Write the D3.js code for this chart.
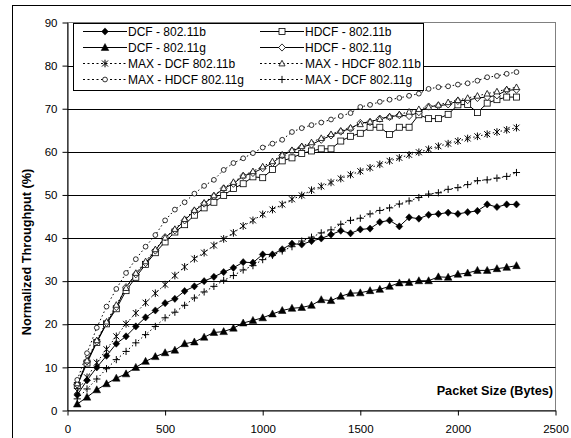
<!DOCTYPE html>
<html>
<head>
<meta charset="utf-8">
<script src="https://cdn.jsdelivr.net/npm/d3@7"></script>
<style>
  body { margin: 0; background: #fff; }
  text { font-family: Arial, "Liberation Sans", sans-serif; }
</style>
</head>
<body>
<div id="chart"></div>
<script>
// Packet sizes (bytes)
const packetSizes = [50, 100, 150, 200, 250, 300, 350, 400, 450, 500, 550, 600, 650, 700, 750, 800, 850, 900, 950, 1000,
  1050, 1100, 1150, 1200, 1250, 1300, 1350, 1400, 1450, 1500, 1550, 1600, 1650, 1700, 1750, 1800, 1850, 1900, 1950, 2000,
  2050, 2100, 2150, 2200, 2250, 2300]

// Normalized throughput (%) per series
const dcf11b = [3.6, 7, 10, 12.7, 15.5, 17.2, 19.5, 21.6, 23.2, 24.9, 25.9, 27.7, 28.8, 30, 31, 32.1, 33.1, 34.4, 34.3, 36.2,
  36.2, 37.4, 38.7, 38.5, 39.3, 39.9, 40.8, 41.7, 41.1, 42, 42.2, 43.7, 44.1, 42.7, 44.8, 44.5, 45.4, 45.6, 45.9, 45.6,
  46, 46.3, 47.8, 47.2, 47.8, 47.8]
const hdcf11b = [5.8, 11, 15.8, 20.1, 23.6, 27.8, 30.9, 33.9, 36.6, 39.1, 41.4, 43.1, 45.3, 47, 48.3, 49.9, 51.5, 52.6, 54.2, 54,
  55.9, 57.9, 58.6, 59.6, 60.2, 60.7, 60.7, 62.5, 63.6, 64.3, 65.7, 65.7, 64, 65.7, 65.7, 68.6, 67.7, 67.7, 68.7, 70.9,
  71, 69.1, 71.3, 72.1, 72.7, 72.7]
const dcf11g = [1.5, 3.1, 4.8, 6.2, 7.5, 8.5, 10, 11.4, 12.5, 13.4, 14, 15.5, 15.9, 17, 18.1, 18.3, 19.1, 20.3, 20.9, 21.5,
  22.4, 23.2, 23.7, 23.9, 24.4, 25.7, 25.5, 26.5, 27.2, 27.3, 27.8, 28.1, 28.8, 29.6, 29.7, 30.1, 30.1, 31, 30.9, 31.6,
  31.9, 32.5, 32.5, 32.9, 33.2, 33.6]
const hdcf11g = [6, 11.4, 16, 20.3, 24, 28.6, 31.6, 34.2, 37.1, 40.2, 41.8, 44.1, 46.3, 48, 49.7, 51.5, 52.6, 54.4, 55.1, 56.2,
  57.4, 59.2, 60.2, 61.1, 61.7, 62.8, 63.8, 64.7, 65.4, 66.7, 66.9, 67.7, 68.1, 68.5, 68.3, 69.2, 70.5, 70.7, 71, 71.8,
  72, 72.5, 72.7, 73.1, 74.3, 74.4]
const maxDcf11b = [4.5, 7.7, 11.1, 14.2, 17.2, 20.1, 22.6, 25, 27.2, 29.2, 31.3, 33.3, 35.2, 36.6, 38.3, 39.8, 41.2, 42.8, 44.1, 45.5,
  46.6, 47.8, 49, 49.9, 51.1, 52, 52.9, 53.8, 54.7, 55.5, 56.3, 57.1, 57.9, 58.6, 59.3, 59.9, 60.6, 61.3, 61.9, 62.5,
  63.1, 63.6, 64.1, 64.6, 65.1, 65.6]
const maxHdcf11b = [6.3, 11.6, 16.3, 20.6, 24.5, 28.4, 31.9, 34.6, 37.4, 40.1, 42.1, 44.4, 46.5, 48.2, 49.9, 51.6, 53, 54.5, 55.5, 56.6,
  57.8, 59.3, 60.4, 61.3, 62.2, 63.2, 64.1, 64.9, 65.6, 66.4, 67, 67.6, 68.2, 68.7, 69.3, 69.9, 70.4, 70.9, 71.5, 72,
  72.5, 73, 73.5, 74, 74.5, 75]
const maxHdcf11g = [7.1, 13.3, 19.2, 24.1, 28.2, 31.9, 35.1, 38, 40.7, 44.1, 46.6, 48.3, 50.3, 52.1, 53.5, 55.8, 57.4, 58.5, 59.7, 61,
  61.9, 62.8, 64.6, 65.5, 66.2, 66.8, 67.5, 68.3, 69, 70.4, 70.9, 71.6, 72.1, 72.5, 73, 73.5, 74.6, 75, 75.2, 75.6,
  75.9, 76.5, 77.3, 77.6, 78.1, 78.5]
const maxDcf11g = [2.7, 5, 7.3, 9.7, 11.8, 13.7, 15.7, 17.6, 19.5, 21.5, 22.8, 24.4, 26.1, 27.5, 28.8, 30.2, 31.3, 32.6, 33.6, 35,
  36, 37, 38, 39.3, 40.2, 41.2, 41.9, 43.2, 44.1, 44.6, 45.6, 46.4, 47, 47.9, 48.6, 49.4, 50.2, 50.5, 51.3, 51.7,
  52.4, 53.3, 53.5, 53.9, 54.3, 55.2]

const seriesNames = ['DCF - 802.11b', 'HDCF - 802.11b', 'DCF - 802.11g', 'HDCF - 802.11g',
  'MAX - DCF 802.11b', 'MAX - HDCF 802.11b', 'MAX - HDCF 802.11g', 'MAX - DCF 802.11g']
const seriesValues = [dcf11b, hdcf11b, dcf11g, hdcf11g, maxDcf11b, maxHdcf11b, maxHdcf11g, maxDcf11g]
const seriesMarkers = ['diamondFill', 'square', 'triangleFill', 'diamond', 'asterisk', 'triangle', 'circle', 'plus']
const seriesDashed = [false, false, false, false, true, true, true, true]

const yTicks = [0, 10, 20, 30, 40, 50, 60, 70, 80, 90]
const xTicks = [0, 500, 1000, 1500, 2000, 2500]

// Layout
const width = 571
const height = 438
const plot = {left: 67.5, right: 555.5, top: 22.5, bottom: 410.5}

const svg = d3.select('#chart')
  .append('svg')
  .attr('width', width)
  .attr('height', height)

// Outer frame (runs past the right and bottom edges)
svg.append('rect')
  .attr('x', 12.5).attr('y', 5.5)
  .attr('width', 600).attr('height', 500)
  .style('fill', 'white')
  .style('stroke', 'black')
  .style('stroke-width', 1)

const xScale = d3.scaleLinear().domain([0, 2500]).range([plot.left, plot.right])
const yScale = d3.scaleLinear().domain([0, 90]).range([plot.bottom, plot.top])

// Plot area border (gray)
svg.append('rect')
  .attr('x', plot.left).attr('y', plot.top)
  .attr('width', plot.right - plot.left).attr('height', plot.bottom - plot.top)
  .style('fill', 'none')
  .style('stroke', '#808080')

// Gridlines
svg.append('g')
  .selectAll('line')
  .data(yTicks.filter(t => t > 0 && t < 90))
  .join('line')
  .attr('x1', plot.left).attr('x2', plot.right)
  .attr('y1', d => Math.round(yScale(d)) + 0.5)
  .attr('y2', d => Math.round(yScale(d)) + 0.5)
  .style('stroke', 'black')
  .style('stroke-width', 1)

// Axes
const lAxis = svg.append('g')
  .attr('transform', `translate(${plot.left},0)`)
  .call(d3.axisLeft(yScale).tickValues(yTicks).tickSize(5).tickSizeOuter(0).tickPadding(5))
const bAxis = svg.append('g')
  .attr('transform', `translate(0,${plot.bottom})`)
  .call(d3.axisBottom(xScale).tickValues(xTicks).tickFormat(d3.format('d')).tickSize(5).tickSizeOuter(0).tickPadding(9))

;[lAxis, bAxis].forEach(a => {
  a.select('.domain').style('stroke', 'black')
  a.selectAll('.tick line').style('stroke', 'black')
  a.selectAll('.tick text')
    .style('font-family', 'Arial, "Liberation Sans", sans-serif')
    .style('font-size', '11.5px')
    .style('fill', 'black')
})

// Axis titles
svg.append('text')
  .attr('transform', `translate(31,252) rotate(270)`)
  .style('text-anchor', 'middle')
  .style('font-size', '12.7px')
  .style('font-weight', 'bold')
  .text('Normalized Throughput (%)')

svg.append('text')
  .attr('x', 553).attr('y', 395)
  .style('text-anchor', 'end')
  .style('font-size', '12.7px')
  .style('font-weight', 'bold')
  .text('Packet Size (Bytes)')

// Marker drawing
function drawMarker(g, type) {
  const s = 'black'
  if (type === 'diamondFill' || type === 'diamond') {
    g.append('path').attr('d', 'M0,-3.6L3.4,0L0,3.6L-3.4,0Z')
      .style('fill', type === 'diamondFill' ? 'black' : 'white')
      .style('stroke', s).style('stroke-width', type === 'diamondFill' ? 0.5 : 0.8)
  } else if (type === 'triangleFill' || type === 'triangle') {
    const r = type === 'triangleFill' ? 1 : 0.8
    g.append('path').attr('d', `M0,${-4 * r}L${3.8 * r},${3 * r}L${-3.8 * r},${3 * r}Z`)
      .style('fill', type === 'triangleFill' ? 'black' : 'white')
      .style('stroke', s).style('stroke-width', type === 'triangleFill' ? 0.5 : 0.8)
  } else if (type === 'square') {
    g.append('rect').attr('x', -3).attr('y', -3).attr('width', 6).attr('height', 6)
      .style('fill', 'white').style('stroke', s).style('stroke-width', 0.8)
  } else if (type === 'circle') {
    g.append('circle').attr('r', 2.4)
      .style('fill', 'white').style('stroke', s).style('stroke-width', 0.8)
  } else if (type === 'asterisk') {
    g.append('path').attr('d', 'M-3,-3L3,3M-3,3L3,-3M0,-3.8V3.8')
      .style('fill', 'none').style('stroke', s).style('stroke-width', 1)
  } else if (type === 'plus') {
    g.append('path').attr('d', 'M-3.6,0H3.6M0,-3.6V3.6')
      .style('fill', 'none').style('stroke', s).style('stroke-width', 1)
  }
}

const linePath = d3.line()
  .x(d => xScale(d.x))
  .y(d => yScale(d.v))

const seriesData = seriesNames.map((name, i) => ({
  name: name,
  marker: seriesMarkers[i],
  dashed: seriesDashed[i],
  points: packetSizes.map((x, j) => ({x: x, v: seriesValues[i][j]}))
}))

const gLines = svg.append('g')
seriesData.forEach(s => {
  gLines.append('path')
    .attr('d', linePath(s.points))
    .style('fill', 'none')
    .style('stroke', 'black')
    .style('stroke-width', 1)
    .style('stroke-dasharray', s.dashed ? '1.5,2.5' : null)
})

const gMarks = svg.append('g')
seriesData.forEach(s => {
  gMarks.selectAll(null)
    .data(s.points)
    .join('g')
    .attr('transform', d => `translate(${xScale(d.x)},${yScale(d.v)})`)
    .each(function () { drawMarker(d3.select(this), s.marker) })
})

// Legend
const legendOrder = [0, 2, 4, 6, 1, 3, 5, 7]
const legend = svg.append('g')
legend.append('rect')
  .attr('x', 73.5).attr('y', 23.5)
  .attr('width', 350).attr('height', 67)
  .style('fill', 'white')
  .style('stroke', 'black')

legendOrder.forEach((si, k) => {
  const col = Math.floor(k / 4)
  const row = k % 4
  const x0 = col === 0 ? 83 : 260
  const y0 = 31 + row * 16
  const s = seriesData[si]
  const g = legend.append('g')
  g.append('line')
    .attr('x1', x0).attr('x2', x0 + 44)
    .attr('y1', y0 + 0.5).attr('y2', y0 + 0.5)
    .style('stroke', 'black')
    .style('stroke-dasharray', s.dashed ? '2,2.5' : null)
  drawMarker(g.append('g').attr('transform', `translate(${x0 + 22},${y0 + 0.5})`), s.marker)
  g.append('text')
    .attr('x', x0 + 45).attr('y', y0 + 4.5)
    .style('font-size', '12px')
    .text(s.name)
})
</script>
</body>
</html>
